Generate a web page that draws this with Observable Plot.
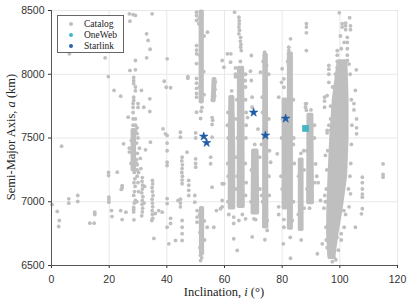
<!DOCTYPE html>
<html>
<head>
<meta charset="utf-8">
<script src="https://cdn.jsdelivr.net/npm/d3@7"></script>
<script src="https://cdn.jsdelivr.net/npm/@observablehq/plot@0.6"></script>
<style>
  body { margin: 0; background: #fff; }
  #wrap { position: relative; width: 407px; height: 302px; overflow: hidden; background: #fff; }
  .lab { position: absolute; font-family: "Liberation Serif", "Times New Roman", serif; color: #222; white-space: nowrap; line-height: 1; }
  #xl { left: 224px; top: 286px; font-size: 12.5px; transform: translateX(-50%); }
  #yl { left: 11px; top: 137px; font-size: 12.5px; transform: translate(-50%, -50%) rotate(-90deg); }
  #legend { position: absolute; left: 57px; top: 15px; width: 67px; height: 38px; box-sizing: border-box;
            border: 1px solid #666; background: #fff; font-family: "Liberation Serif", "Times New Roman", serif;
            font-size: 9.5px; color: #222; }
  .row { position: absolute; left: 0; height: 11px; line-height: 11px; }
  .mk { position: absolute; left: 11px; top: 3.5px; width: 4px; height: 4px; border-radius: 50%; }
  .tx { position: absolute; left: 26px; top: 0; white-space: nowrap; }
</style>
</head>
<body>
<div id="wrap"></div>
<script>
// ---------------- data ----------------
const xTicks = [0, 20, 40, 60, 80, 100, 120];
const yTicks = [6500, 7000, 7500, 8000, 8500];
const legendLabels = ["Catalog", "OneWeb", "Starlink"];

// Starlink and OneWeb reference objects [inclination (deg), semi-major axis (km)]
const starlink = [[52.8, 7512], [53.8, 7462], [70.1, 7700], [74.2, 7520], [81.2, 7653]];
const oneweb = [[88.1, 7575]];

// Densely populated inclination bands of the catalog (rows: band id, a, inclination low/high)
const bandId   = ["b52h","b52h","b52l","b52l","b28","b28","b56","b56","G","G","G","H","H","I","I","J","J","K","K","L","L","M","M","N","N",
                  "O","O","O","O","O","O","O"];
const bandA    = [7780, 8490, 6590, 6950, 7250, 7560, 7790, 7960, 6950, 7400, 7820, 6960, 8050, 6910, 7400, 6800, 8150, 6790, 8160, 6950, 7800, 6780, 7330, 6990, 7680,
                  6560, 6750, 6950, 7200, 7500, 7800, 8100];
const bandLo   = [51.8, 51.8, 51.9, 51.9, 28.2, 28.2, 56.0, 56.3, 61.9, 61.9, 62.1, 65.0, 65.1, 69.8, 70.0, 73.8, 73.9, 82.4, 82.4, 80.6, 80.6, 86.2, 86.2, 89.1, 89.2,
                  96.5, 96.0, 96.1, 96.5, 97.1, 98.0, 99.7];
const bandHi   = [52.4, 52.4, 52.5, 52.5, 28.9, 28.9, 56.5, 56.8, 63.3, 63.3, 63.0, 66.6, 66.4, 71.6, 71.4, 74.8, 74.6, 83.3, 83.3, 81.4, 81.4, 87.0, 87.0, 90.6, 90.4,
                  98.0, 99.1, 100.6, 102.1, 102.6, 102.6, 102.2];

// Individually visible catalog objects [inclination (deg), semi-major axis (km)]
const catalog = [
  [3.5,7436],[0.2,6978],[2,6924],[2.7,6853],[2.5,6806],[6,7023],[6,6989],[9.1,7049],[9.1,7002],[13.3,6832],[14.8,6832],[15,6918],[15,6900],
  [6.2,8160],[18.6,8129],[19.7,7982],[21.7,7873],[24,7828],
  [19.8,7230],[19.8,7205],[22.8,7232],[24.5,7127],[24.5,7110],[24.2,7097],[19.9,7036],[19.9,7016],[19.9,6997],[20.8,6931],[21,6884],[24,6931],
  [25.8,6918],[24.5,6860],[25,7454],[27,7420],[27,7390],
  [29.7,7290],[29.7,7250],[29.7,7200],[28.5,6955],[28.5,6940],[28.5,6920],[28.6,6858],[27,8474],[28.3,8468],[27.2,8416],[27.2,8030],[28.5,7975],
  [28.5,7950],[28.5,7927],[28.5,7820],[28.5,7795],[26.6,7663],[28.3,7770],[28.3,7740],[28.3,7700],[28.3,7650],[28.3,7600],[29.7,7580],[29.7,7535],
  [28.7,7230],[28.9,7180],[28.6,7150],[29,7120],[28.8,7080],[28.5,7050],[29.1,7010],[28.7,6990],[30,7150],[30.2,7080],[29.6,7000],
  [27.6,7300],[27.7,7480],[29.5,7330],
  [29.1,8461],[34.9,8474],[33,8317],[33.5,8265],[34.2,8196],[33,8129],[29.1,8108],[40.1,8121],[29.1,8035],[39.1,7945],[39.8,7898],[41.3,7894],
  [47.3,7982],[47.3,7969],[29.1,7900],[29.1,7870],[31.2,7873],[34.1,7807],[30,7770],[30,7740],[32,7741],[34.1,7708],[29.1,7650],[29.1,7600],
  [29.1,7560],[38.7,7572],[39.5,7533],
  [29.3,7540],[30,7500],[29.5,7460],[30.5,7420],[29.8,7380],[30.8,7340],[29.5,7300],[31,7260],[30.2,7230],[34.3,7467],[32.6,7407],
  [31.5,7190],[31.4,7160],[31.6,7130],[31.5,7100],[31.3,7070],[31.7,7040],[31.5,7010],[31.4,6980],[31.6,6950],[31.5,6920],[31.3,6890],[32.3,7120],[32.1,6990],
  [35,7167],[35.1,7140],[34.9,7110],[35,7080],[35.2,7050],[34.9,7020],[35,6990],[35.1,6960],[34.9,6930],[35,6900],[35.1,6870],[34.8,6853],
  [36,6908],[35.5,6712],[37.2,6931],[38.4,6918],[40.1,7520],[40.1,7460],[40.1,7400],[40.1,7310],[40.1,7284],[40.1,7025],[40.1,6986],[41.3,6870],
  [41.3,6830],[40.1,6800],[40.7,6670],[43,6696],[44.7,7545],[44.7,7506],
  [45.3,7350],[45.2,7320],[45.4,7290],[45.3,7260],[45.2,7230],[45.4,7200],[45.3,7170],[45.3,7141],
  [44.7,7020],[44.7,6990],[44.7,6960],[45.3,6853],[45.3,6800],[45.3,6750],[45.3,6696],[43.9,7010],[47,7389],[47.6,7167],[47.6,7130],[47.6,7090],
  [47.6,7049],[50,7337],[50,7300],[50,7271],[50,7540],[50,7500],[49.7,7049],[49.7,6997],[50.5,6930],[50.5,6880],[50.5,6840],[54,6800],[56.3,6800],
  [57.2,6931],[58.6,6945],[55.7,7114],[59.2,7141],[55.2,7350],[55.2,7298],[55.7,7506],[51.7,6539],[51.7,6580],
  [50.3,8487],[50.3,8460],[50.3,8422],[51.1,8396],[50.3,8225],[50.3,8190],[50.3,8160],[50.3,8084],[50.3,7967],[50.3,7930],[50.3,7890],[50.3,7850],
  [50.3,7820],[50.3,7702],[51.7,7653],[54.1,8330],[55.7,7660],[55.9,7640],[55.7,7606],
  [56.8,7940],[56.7,7880],[56.6,7830],[55.8,7800],
  // texture around the 52 deg columns
  [51.3,8440],[52.9,8300],[51.4,8150],[52.8,8020],[51.4,7900],[52.9,7840],[52.2,7740],[51.9,7710],
  [51.4,6900],[53,6850],[51.5,6760],[53.1,6700],[52.1,6560],[51.5,6640],
  [63.5,8487],[65,8448],[65.1,8420],[65.1,8395],[65,8370],[65.2,8345],[65,8317],[65.6,8290],[65.5,8260],[65.7,8235],[65.6,8212],[65.8,8186],
  [63.8,8050],[63.8,8000],[63.8,7980],[59.2,8108],[59.8,8055],[61,8160],[62.2,8160],[62.1,8095],[69.3,8147],[69,8024],[69.3,7951],[69.6,7820],
  [69.6,7741],[68,7660],[67.3,8000],[67.3,7900],[67.3,7800],[67.5,7700],[61.2,7700],[61.3,7500],[61.1,7300],[67.4,7500],[67.2,7300],[67.5,7150],
  [73.9,8173],[74.4,8150],[74.6,8069],[72.5,8016],[73.1,7820],[71.6,7570],[72.8,7450],[75.6,7400],[75.4,7200],[72.9,7050],
  [82.9,8278],[82.3,8212],[82.3,8186],[80.6,7964],[80.6,7898],[80,8043],[79.8,7937],[78.8,7820],[84,7500],[84.2,7300],[79.8,7500],[79.6,7200],
  [88.4,8396],[88.4,8370],[88.4,8325],[88.4,8186],[88.4,7770],[88.4,7718],[88.1,7768],[88.1,7741],
  // texture around the 60-90 deg columns
  [61.2,7000],[61.3,7200],[61.0,7600],[63.9,7100],[64,7350],[63.8,7650],[62.5,7870],[61.5,6900],
  [64.4,7200],[64.5,7500],[64.3,7800],[67.3,7050],[67.5,7600],[67.2,7950],[65.5,8100],[66.2,6900],
  [69.2,7000],[69.3,7250],[72.3,7100],[72.2,7350],[70.5,7450],[70.8,6860],
  [73.2,7000],[73.2,7700],[75.5,7050],[75.4,7650],[75.3,8000],[73.4,8100],
  [81.9,8100],[83.9,7000],[83.9,7800],[82.8,6720],[83.9,7450],[80,7100],[80.1,7650],
  [85.6,6900],[85.7,7200],[87.6,6950],[87.6,7250],[86.5,7380],
  [88.6,7100],[88.6,7400],[91.3,7150],[91.2,7600],[90,7720],
  [63.2,6710],[64.4,6618],[69.6,6724],[74,6702],[80.4,6670],[82.9,6557],[59.2,7010],[59.2,6960],[78.3,7376],[76,7310],[59.8,7141],
  [63.2,6880],[63.2,6830],[65,6853],[67.3,6866],[70.2,6866],[74.8,6853],[74.8,6775],[78.8,6960],[78.8,6900],[80.6,6860],[80.6,6800],[83.5,6853],
  [115,7297],[115,7214],[115,7193],[107.8,7193],[107.8,7150],[107.8,7100],[107.8,7060],[107.8,7036],[107.8,6945],[107.5,6905],[105.4,6800],
  [101.4,6931],[103.7,7062],[97.9,6565],[96.2,6620],[96.2,6590],[93.9,6670],[92.2,6592],[91.6,7297],[92,7200],[92.5,7150],[93.3,7010],[95,7363],
  [95.6,7560],[95.6,7540],[94.7,7820],[94.7,7790],[94.7,7741],[95.6,7833],[96.2,8069],[96.2,8040],[96.2,8000],[96.2,7937],[99.8,8482],[103.4,8443],
  [100.8,8396],[100.8,8370],[102,8400],[102,8380],[102,8350],[103.7,8380],[103.7,8350],[102.6,8290],[102.6,8250],[102.6,8200],[102.6,8150],
  [102.6,8108],[99.1,8186],[99.1,8150],[99.1,8100],[99.1,8055],[105.7,8035],[105.4,7873],[104.9,7770],[104.9,7720],[105.8,7650],[105.8,7580],
  [105.8,7533],[96.8,7650],[96.8,7560],[103.2,6960],[99,6720],[94.5,6950],[94.8,7050],[100.5,6700],
  [95,7000],[95.3,7100],[95.5,7250],[95.8,7400],[96.2,7600],[96.8,7750],[97.5,7900],[98.5,8000],[103.8,7300],[104,7450],[104.2,7600],[104,7800],
  [103.6,8000],[103.2,8080],[102,6900],[101.5,6800],[100.5,6750],[99.5,6620],[95.2,6800],[95.3,6700],[95.6,6640],[97.4,6530],[98.6,6545],
  [103,7100],[103.5,7200],[100.5,8200],[101.5,8250],[100.2,8300],[86.6,6700],[87.5,7400],[89.5,6950],[91.2,7500]
];

// ---------------- chart ----------------
const GREY = "#bfbfbf";
const bandRows = bandId.map((id, i) => ({id, a: bandA[i], lo: bandLo[i], hi: bandHi[i]}));

const chart = Plot.plot({
  width: 407,
  height: 302,
  marginLeft: 51,
  marginRight: 10,
  marginTop: 10,
  marginBottom: 37,
  style: {fontFamily: "'Liberation Sans', Arial, sans-serif", fontSize: "10.5px", color: "#333", background: "white", overflow: "visible"},
  x: {domain: [0, 120], ticks: xTicks, tickSize: 3, tickPadding: 7, label: null, tickFormat: d3.format("d")},
  y: {domain: [6500, 8500], ticks: yTicks, tickSize: 3, tickPadding: 4, label: null, tickFormat: d3.format("d")},
  marks: [
    Plot.ruleX(xTicks, {stroke: "#e8e8e8"}),
    Plot.ruleY(yTicks, {stroke: "#e8e8e8"}),
    Plot.areaX(bandRows, {y: "a", x1: "lo", x2: "hi", z: "id", fill: GREY, stroke: GREY, strokeWidth: 3.5, strokeLinejoin: "round"}),
    Plot.dot(catalog, {x: d => d[0], y: d => d[1], r: 1.9, fill: GREY}),
    Plot.dot(oneweb, {x: d => d[0], y: d => d[1], symbol: "square", r: 3.8, fill: "#42b6c4"}),
    Plot.dot(starlink, {x: d => d[0], y: d => d[1], symbol: "star", r: 2.7, fill: "#1f5ca8", stroke: "#1f5ca8", strokeWidth: 0.6}),
    Plot.ruleX([0], {stroke: "#555"}),
    Plot.ruleY([6500], {stroke: "#555"})
  ]
});

const wrap = document.getElementById("wrap");
wrap.appendChild(chart);

const xl = document.createElement("div");
xl.className = "lab"; xl.id = "xl";
xl.innerHTML = "Inclination, <i>i</i> (°)";
wrap.appendChild(xl);

const yl = document.createElement("div");
yl.className = "lab"; yl.id = "yl";
yl.innerHTML = "Semi-Major Axis, <i>a</i> (km)";
wrap.appendChild(yl);

const legend = document.createElement("div");
legend.id = "legend";
const legendColors = [GREY, "#42b6c4", "#2a64ae"];
legendLabels.forEach((t, i) => {
  const row = document.createElement("div");
  row.className = "row";
  row.style.top = (2.5 + i * 11) + "px";
  row.style.width = "100%";
  row.innerHTML = `<span class="mk" style="background:${legendColors[i]}"></span><span class="tx">${t}</span>`;
  legend.appendChild(row);
});
wrap.appendChild(legend);
</script>
</body>
</html>
